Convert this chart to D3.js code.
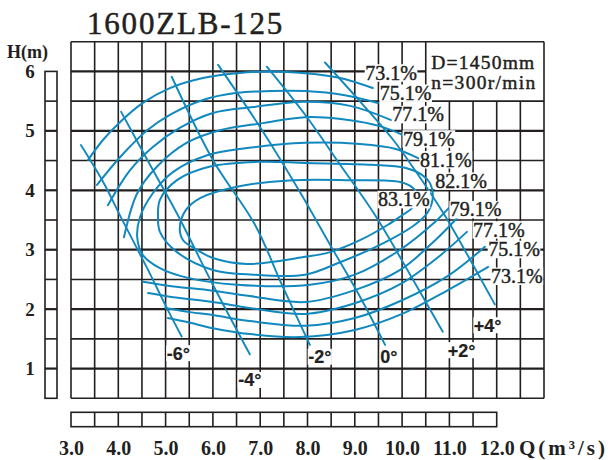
<!DOCTYPE html>
<html><head><meta charset="utf-8">
<script src="https://cdn.jsdelivr.net/npm/d3@7"></script>
<style>
html,body{margin:0;padding:0;background:#fff;}
svg{display:block;}
</style></head>
<body>
<svg id="chart" width="611" height="460"></svg>
<script>
// ---------- text / ticks ----------
const title = "1600ZLB-125";
const specLines = ["D=1450mm", "n=300r/min"];
const xTicks = [3, 4, 5, 6, 7, 8, 9, 10, 11, 12];
const yTicks = [1, 2, 3, 4, 5, 6];
const xLabel = "Q(m\u00B3/s)";
const yLabel = "H(m)";

// ---------- efficiency contours [Q (m³/s), H (m)] ----------
const eff731Upper = [[3.36,4.51],[3.68,4.85],[4.04,5.15],[4.52,5.47],[5.09,5.72],[5.79,5.89],[6.51,5.97],[7.21,6.00],[7.95,5.97],[8.69,5.89],[9.38,5.72]];
const eff731Lower = [[5.05,1.85],[5.52,1.77],[6.00,1.68],[6.78,1.58],[7.84,1.53],[9.00,1.65],[10.00,1.92],[10.97,2.32],[11.82,2.71]];
const eff751Upper = [[3.55,4.09],[4.04,4.56],[4.61,5.01],[5.09,5.27],[5.79,5.52],[6.51,5.64],[7.21,5.67],[7.95,5.67],[8.79,5.60],[9.49,5.47]];
const eff751Lower = [[4.99,2.02],[5.52,1.95],[6.00,1.90],[6.78,1.80],[7.95,1.72],[9.00,1.85],[10.00,2.15],[10.97,2.56],[11.75,3.05]];
const eff771Upper = [[3.78,3.75],[4.25,4.34],[4.73,4.73],[5.30,5.05],[6.00,5.30],[6.85,5.40],[7.95,5.49],[8.90,5.42],[9.77,5.18]];
const eff771Lower = [[4.63,2.27],[5.09,2.21],[6.00,2.12],[6.78,2.02],[7.95,1.92],[9.00,2.10],[9.96,2.42],[10.80,2.90],[11.37,3.30]];
const eff791Upper = [[4.12,3.21],[4.40,3.95],[4.82,4.40],[5.45,4.80],[6.15,5.01],[7.06,5.13],[7.95,5.23],[8.90,5.18],[9.53,5.08],[10.02,4.93]];
const eff791Lower = [[4.52,2.46],[5.09,2.39],[6.00,2.31],[6.78,2.22],[7.95,2.12],[9.00,2.32],[9.96,2.66],[10.70,3.16],[11.16,3.53]];
const eff811 = [[11.01,3.72],[10.70,3.47],[9.96,3.00],[9.00,2.58],[8.05,2.41],[6.51,2.41],[5.45,2.53],[4.88,2.69],[4.52,2.91],[4.40,3.21],[4.46,3.55],[4.73,3.95],[5.16,4.31],[5.88,4.59],[6.72,4.71],[7.95,4.80],[9.11,4.78],[9.85,4.70],[10.34,4.54]];
const eff821 = [[4.84,3.58],[4.88,3.84],[5.24,4.17],[5.94,4.40],[7.00,4.48],[7.95,4.46],[9.36,4.43],[10.06,4.38],[10.42,4.26],[10.59,4.12],[10.65,3.89],[10.55,3.64],[10.27,3.42],[9.53,3.08],[8.69,2.79],[7.95,2.58],[6.85,2.58],[6.00,2.66],[5.24,2.96],[4.88,3.30]];
const eff831 = [[5.30,3.37],[5.43,3.67],[5.73,3.87],[6.51,4.06],[7.69,4.17],[8.90,4.17],[9.96,4.14],[10.23,4.04],[10.34,3.87],[10.21,3.70],[10.00,3.58],[9.70,3.42],[9.11,3.16],[8.48,2.96],[7.95,2.88],[6.72,2.76],[6.00,2.86],[5.66,3.00],[5.37,3.16]];

// ---------- blade angle lines ----------
const bladeM6 = [[3.21,4.76],[3.70,4.11],[4.04,3.57],[4.61,2.69],[5.07,1.95],[5.34,1.54]];
const bladeM4 = [[4.06,5.32],[4.67,4.43],[5.26,3.58],[6.00,2.41],[6.78,1.24]];
const bladeM2 = [[5.13,5.91],[6.00,4.51],[6.89,3.42],[7.46,2.41],[8.05,1.40]];
const blade0  = [[6.11,6.11],[7.04,5.01],[7.84,3.97],[8.48,3.08],[9.11,2.21],[9.64,1.40]];
const bladeP2 = [[7.14,6.08],[7.95,5.27],[8.69,4.43],[9.43,3.58],[10.17,2.58],[10.86,1.62]];
const bladeP4 = [[8.37,6.15],[9.15,5.46],[9.81,4.85],[10.27,4.34],[10.90,3.58],[11.44,2.83],[11.96,2.08]];

// ---------- labels (text, anchor Q, anchor H) ----------
const effLabelText = ["73.1%","75.1%","77.1%","79.1%","81.1%","82.1%","83.1%","79.1%","77.1%","75.1%","73.1%"];
const effLabelQ    = [9.22, 9.53, 9.79, 10.02, 10.38, 10.70, 9.49, 11.01, 11.50, 11.82, 11.88];
const effLabelH    = [5.86, 5.52, 5.16, 4.75, 4.40, 4.04, 3.73, 3.56, 3.22, 2.89, 2.44];
const angleLabelText = ["-6\u00B0","-4\u00B0","-2\u00B0","0\u00B0","+2\u00B0","+4\u00B0"];
const angleLabelQ    = [5.27, 6.78, 8.26, 9.72, 11.26, 11.81];
const angleLabelH    = [1.15, 0.70, 1.09, 1.09, 1.20, 1.62];

// ---------- drawing ----------
const svg = d3.select("#chart");
const W = 611, H = 460;
svg.append("rect").attr("width", W).attr("height", H).attr("fill", "#fff");

const qMin = 3, qMax = 13, hMin = 0.5, hMax = 6.5;
const boxQ = 10.5, boxH = 5.5;
const x = d3.scaleLinear().domain([qMin, qMax]).range([71, 544]);
const y = d3.scaleLinear().domain([hMin, hMax]).range([398.3, 41.7]);

const ink = "#231f20";
const blue = "#1189be";
const serif = "'Liberation Serif','Times New Roman',serif";
const sans = "'Liberation Sans',Arial,sans-serif";

const qLines = d3.range(qMin, qMax + 0.01, 0.5);
const hLines = d3.range(hMin, hMax + 0.01, 0.5);
const eps = 1e-6;

const grid = svg.append("g");
grid.selectAll("line.v").data(qLines).join("line").attr("class","v")
  .attr("x1", d => x(d)).attr("x2", d => x(d))
  .attr("y1", d => d > boxQ + eps && d < qMax - eps ? y(boxH) : y(hMax))
  .attr("y2", y(hMin))
  .attr("stroke", ink).attr("stroke-width", 1.6);
grid.selectAll("line.h").data(hLines).join("line").attr("class","h")
  .attr("y1", d => y(d)).attr("y2", d => y(d))
  .attr("x1", x(qMin))
  .attr("x2", d => d > boxH + eps && d < hMax - eps ? x(boxQ) : x(qMax))
  .attr("stroke", ink)
  .attr("stroke-width", d => (Math.abs(d - Math.round(d)) < eps && d > hMin && d < hMax) ? 2.2 : 1.6);

// left narrow strip (H scale bar)
const stripL = svg.append("g");
const stripX0 = 45, stripX1 = 57;
stripL.append("rect").attr("x", stripX0).attr("y", y(6)).attr("width", stripX1 - stripX0)
  .attr("height", y(hMin) - y(6)).attr("fill", "none").attr("stroke", ink).attr("stroke-width", 1.6);
stripL.selectAll("line").data(hLines.filter(d => d > hMin + eps && d < 6 - eps)).join("line")
  .attr("x1", stripX0).attr("x2", stripX1).attr("y1", d => y(d)).attr("y2", d => y(d))
  .attr("stroke", ink).attr("stroke-width", d => Math.abs(d - Math.round(d)) < eps ? 2.2 : 1.6);

// bottom narrow strip (Q scale bar)
const stripB = svg.append("g");
const stripY0 = 412.3, stripY1 = 426.7;
stripB.append("rect").attr("x", x(3)).attr("y", stripY0).attr("width", x(12) - x(3))
  .attr("height", stripY1 - stripY0).attr("fill", "none").attr("stroke", ink).attr("stroke-width", 1.6);
stripB.selectAll("line").data(qLines.filter(d => d > 3 + eps && d < 12 - eps)).join("line")
  .attr("x1", d => x(d)).attr("x2", d => x(d)).attr("y1", stripY0).attr("y2", stripY1)
  .attr("stroke", ink).attr("stroke-width", 1.6);

// curves
const openLine = d3.line().x(d => x(d[0])).y(d => y(d[1])).curve(d3.curveCatmullRom.alpha(0.5));
const closedLine = d3.line().x(d => x(d[0])).y(d => y(d[1])).curve(d3.curveCatmullRomClosed.alpha(0.5));
const curves = svg.append("g").attr("fill", "none").attr("stroke", blue).attr("stroke-linecap", "round");
[eff731Upper, eff731Lower, eff751Upper, eff751Lower, eff771Upper, eff771Lower,
 eff791Upper, eff791Lower, eff811].forEach(c =>
  curves.append("path").attr("d", openLine(c)).attr("stroke-width", 2));
[eff821, eff831].forEach(c =>
  curves.append("path").attr("d", closedLine(c)).attr("stroke-width", 2));
[bladeM6, bladeM4, bladeM2, blade0, bladeP2, bladeP4].forEach(c =>
  curves.append("path").attr("d", openLine(c)).attr("stroke-width", 1.9));

// labels on white knock-out boxes
function boxedLabels(texts, qs, hs, opts) {
  const g = svg.append("g");
  const bg = g.append("g");
  const tx = g.append("g").selectAll("text").data(texts).join("text")
    .attr("x", (d, i) => x(qs[i])).attr("y", (d, i) => y(hs[i]))
    .attr("text-anchor", opts.anchor).attr("font-family", opts.family)
    .attr("font-weight", opts.weight).attr("font-size", opts.size)
    .attr("fill", ink).attr("stroke", ink).attr("stroke-width", opts.thick)
    .text(d => d);
  tx.each(function(d, i) {
    const bb = this.getBBox();
    const base = y(hs[i]);
    bg.append("rect")
      .attr("x", bb.x - opts.padX).attr("width", bb.width + 2 * opts.padX)
      .attr("y", base - opts.capH).attr("height", opts.capH + opts.below)
      .attr("fill", "#fff");
  });
}
boxedLabels(effLabelText, effLabelQ, effLabelH,
  {anchor: "start", family: serif, weight: "normal", size: 20, thick: 0.45, padX: 0.5, capH: 15.5, below: 2});
boxedLabels(angleLabelText, angleLabelQ, angleLabelH,
  {anchor: "middle", family: sans, weight: "bold", size: 18, thick: 0.2, padX: 0.5, capH: 14.5, below: 1.5});

// spec box text
svg.append("g").selectAll("text").data(specLines).join("text")
  .attr("x", x(boxQ) + 5.5).attr("y", (d, i) => i === 0 ? 68.5 : 88.5)
  .attr("font-family", serif).attr("font-size", 19.5).attr("fill", ink)
  .attr("stroke", ink).attr("stroke-width", 0.45)
  .attr("textLength", (d, i) => i === 0 ? 103 : 104).attr("lengthAdjust", "spacing")
  .text(d => d);

// axes
const xAxis = d3.axisBottom(x).tickValues(xTicks).tickFormat(d3.format(".1f")).tickSize(0).tickPadding(0);
const gx = svg.append("g").attr("transform", "translate(0,441)").call(xAxis);
gx.select(".domain").remove();
gx.selectAll("text").attr("font-family", serif).attr("font-weight", "bold")
  .attr("font-size", 20).attr("fill", ink);

const yAxis = d3.axisLeft(y).tickValues(yTicks).tickFormat(d3.format("d")).tickSize(0).tickPadding(0);
const gy = svg.append("g").attr("transform", "translate(30,0)").call(yAxis);
gy.select(".domain").remove();
gy.selectAll("text").attr("x", 0).attr("text-anchor", "middle").attr("font-family", serif)
  .attr("font-weight", "bold").attr("font-size", 19).attr("fill", ink);

svg.append("text").attr("x", 7).attr("y", 58).attr("font-family", serif).attr("font-weight", "bold")
  .attr("font-size", 18).attr("fill", ink).text(yLabel);
svg.append("text").attr("x", 519).attr("y", 455).attr("font-family", serif).attr("font-weight", "bold")
  .attr("font-size", 21).attr("fill", ink).attr("textLength", 86).attr("lengthAdjust", "spacing").text(xLabel);

// title
svg.append("text").attr("x", 87).attr("y", 33.5).attr("font-family", serif)
  .attr("font-size", 31).attr("letter-spacing", 1.8).attr("fill", ink)
  .attr("stroke", ink).attr("stroke-width", 0.5).text(title);
</script>
</body></html>
